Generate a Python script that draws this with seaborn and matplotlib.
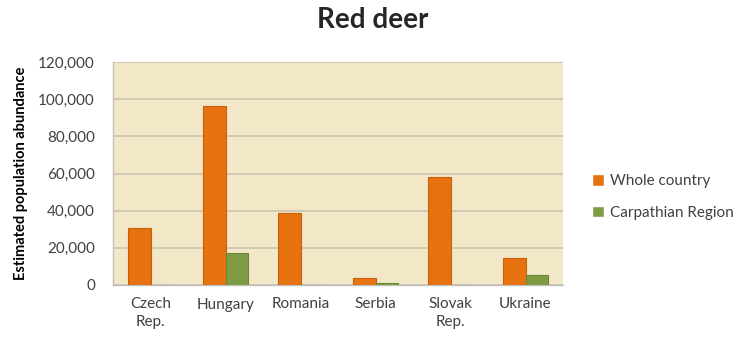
import matplotlib
matplotlib.use("Agg")
import matplotlib.pyplot as plt
import seaborn as sns
import pandas as pd
import numpy as np
from matplotlib.ticker import FuncFormatter, FixedLocator

countries = ["Czech\nRep.", "Hungary", "Romania", "Serbia", "Slovak\nRep.", "Ukraine"]
whole_country = [30500, 96300, 38600, 3600, 58100, 14400]
carpathian = [0, 17000, 0, 900, 0, 5500]
series_names = ["Whole country", "Carpathian Region"]
y_ticks = [0, 20000, 40000, 60000, 80000, 100000, 120000]

df = pd.DataFrame({
    "Country": countries * 2,
    "Value": whole_country + carpathian,
    "Series": [series_names[0]] * len(countries) + [series_names[1]] * len(countries),
})

sns.set_theme(style="white")
plt.rcParams['font.family'] = ['Lato', 'DejaVu Sans']

fig = plt.figure(figsize=(7.46, 3.41), dpi=100)
ax = fig.add_axes([113/746, 56/341, 450/746, 223/341])
ax.set_facecolor("#F2E7C6")

palette = {"Whole country": "#E6730F", "Carpathian Region": "#7F9C45"}
edges = {"Whole country": "#C8600A", "Carpathian Region": "#6A8838"}
sns.barplot(data=df, x="Country", y="Value", hue="Series", palette=palette,
            width=0.59, ax=ax, saturation=1, legend=True, zorder=3)
for cont, name in zip(ax.containers, series_names):
    for bar in cont:
        bar.set_edgecolor(edges[name])
        bar.set_linewidth(0.8)

ax.set_ylim(0, 120000)
ax.set_xlim(-0.5, len(countries) - 0.5)
ax.set_yticks(y_ticks)
ax.yaxis.set_major_formatter(FuncFormatter(lambda v, p: f"{int(v):,}"))
ax.yaxis.grid(True, color="#CCC7B5", linewidth=1.3, zorder=0)
ax.set_axisbelow(True)

ax.tick_params(axis="x", which="major", length=0, pad=9, labelsize=11, colors="#404040")
for lbl in ax.get_xticklabels():
    lbl.set_linespacing(1.35)
ax.xaxis.set_minor_locator(FixedLocator(np.arange(-0.5, len(countries), 1.0)))
ax.tick_params(axis="x", which="minor", length=5, color="#BFBFBF", width=1, direction="out")
ax.tick_params(axis="y", length=5, color="#BFBFBF", width=1, direction="out", labelsize=11,
               colors="#404040", pad=8)

for s in ["top", "right"]:
    ax.spines[s].set_visible(False)
for s in ["left", "bottom"]:
    ax.spines[s].set_color("#BFBFBF")
    ax.spines[s].set_linewidth(1)

ax.set_xlabel("")
ax.set_ylabel("Estimated population abundance", fontsize=10.5, fontweight="bold", color="#000000", labelpad=7)

leg = ax.legend(loc="center left", bbox_to_anchor=((578 - 113) / 450, 0.395), frameon=False,
                fontsize=11, handlelength=0.8, handleheight=0.8, handletextpad=0.4,
                labelspacing=1.15)
for t in leg.get_texts():
    t.set_color("#404040")

fig.text(0.5, 0.94, "Red deer", ha="center", va="center", fontsize=20, fontweight="bold")

fig.savefig("out.png", dpi=100)
